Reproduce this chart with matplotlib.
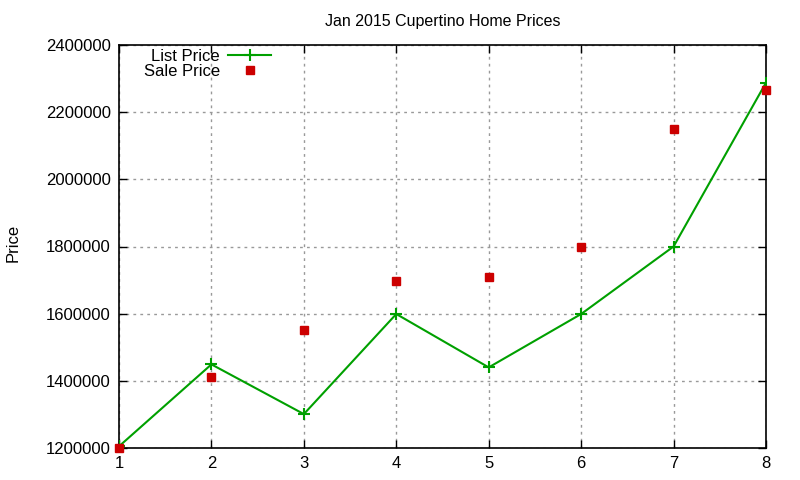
import matplotlib
matplotlib.use("Agg")
import matplotlib.pyplot as plt

plt.rcParams['font.family'] = ['Liberation Sans', 'DejaVu Sans']

# data
months = [1, 2, 3, 4, 5, 6, 7, 8]
list_price = [1205000, 1449000, 1301000, 1599000, 1440000, 1599000, 1800000, 2288000]
sale_price = [1200000, 1412000, 1551000, 1698000, 1710000, 1800000, 2150000, 2267000]
y_ticks = [1200000, 1400000, 1600000, 1800000, 2000000, 2200000, 2400000]

fig = plt.figure(figsize=(8, 4.8), dpi=100)
ax = fig.add_axes([119 / 800, 1 - 448 / 480, (766 - 119) / 800, (448 - 45) / 480])

ax.plot(months, list_price, color='#00a000', lw=1.5, marker='+', ms=9, mew=1.5,
        label='List Price', zorder=3)
ax.plot(months, sale_price, ls='none', color='#cc0000', marker='s', ms=6,
        label='Sale Price', zorder=4, clip_on=False)

ax.set_xlim(1, 8)
ax.set_ylim(1200000, 2400000)
ax.set_xticks(months)
ax.set_yticks(y_ticks)
ax.set_yticklabels([str(v) for v in y_ticks])
ax.tick_params(direction='in', top=True, right=True, labelsize=12, length=6, width=1)
ax.tick_params(axis='x', pad=6)
ax.tick_params(axis='y', pad=6)
for s in ax.spines.values():
    s.set_linewidth(1.2)
ax.grid(True, color='#999999', ls=(0, (2, 3)), lw=1)
ax.set_axisbelow(True)

ax.set_ylabel('Price', fontsize=12)
ax.yaxis.set_label_coords((21 - 119) / 647, 0.51)
# gnuplot centres the title over the plot area
ax.set_title('Jan 2015 Cupertino Home Prices', fontsize=11.5, pad=14)

ax.legend(loc='upper left', bbox_to_anchor=(0.02, 1.02), frameon=False, markerfirst=False,
          fontsize=12, handlelength=2.6, handletextpad=0.5, labelspacing=0.0,
          borderaxespad=0.3)

fig.savefig('out.png', dpi=100)
